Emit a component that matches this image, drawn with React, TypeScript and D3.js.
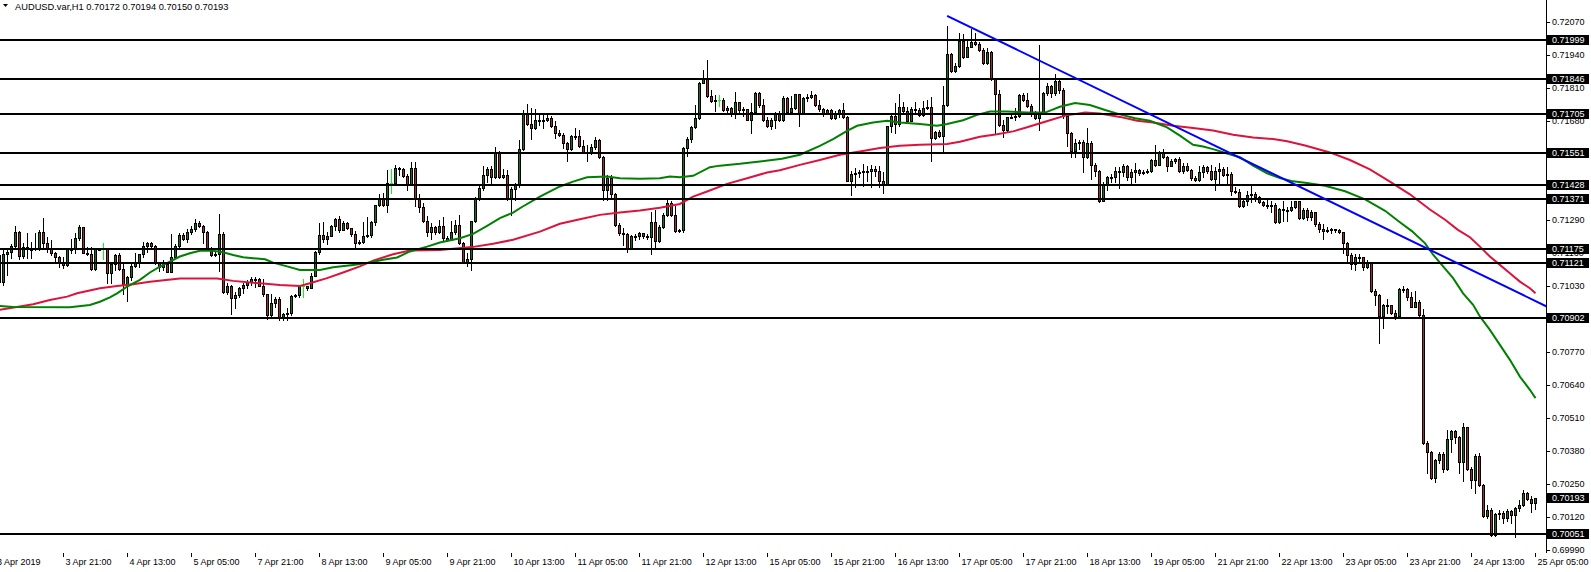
import React from "react";
import * as d3 from "d3";

// ---- Data (AUDUSD H1, 3 Apr 2019 05:00 .. 25 Apr 2019 05:00) ----
const firstOpen = 0.7115;

const closes = [
0.71046,0.71155,0.71164,0.71187,0.71242,0.71147,0.71181,0.71176,0.71173,0.71177,
0.71242,0.71200,0.71177,0.71158,0.71145,0.71125,0.71111,0.71173,0.71175,0.71217,
0.71261,0.71160,0.71155,0.71097,0.71173,0.71174,0.71174,0.71079,0.71116,0.71151,
0.71097,0.71033,0.71063,0.71108,0.71121,0.71153,0.71187,0.71197,0.71187,0.71121,
0.71103,0.71116,0.71084,0.71142,0.71187,0.71229,0.71213,0.71242,0.71255,0.71276,
0.71265,0.71242,0.71180,0.71151,0.71153,0.71233,0.71007,0.71029,0.70981,0.70994,
0.71020,0.71033,0.71045,0.71055,0.71058,0.71029,0.70998,0.70915,0.70961,0.70978,
0.70902,0.70919,0.70924,0.70990,0.70994,0.71027,0.71027,0.71022,0.71069,0.71162,
0.71230,0.71213,0.71227,0.71266,0.71292,0.71250,0.71276,0.71257,0.71234,0.71200,
0.71204,0.71227,0.71229,0.71279,0.71349,0.71371,0.71349,0.71436,0.71436,0.71493,
0.71490,0.71463,0.71431,0.71493,0.71375,0.71339,0.71283,0.71240,0.71261,0.71240,
0.71266,0.71217,0.71211,0.71240,0.71270,0.71198,0.71121,0.71135,0.71285,0.71371,
0.71414,0.71467,0.71489,0.71458,0.71555,0.71458,0.71467,0.71371,0.71410,0.71427,
0.71568,0.71710,0.71668,0.71650,0.71683,0.71682,0.71683,0.71690,0.71660,0.71633,
0.71624,0.71594,0.71568,0.71620,0.71618,0.71581,0.71558,0.71556,0.71576,0.71604,
0.71536,0.71408,0.71454,0.71392,0.71270,0.71237,0.71235,0.71178,0.71224,0.71226,
0.71237,0.71224,0.71221,0.71279,0.71208,0.71263,0.71309,0.71355,0.71309,0.71247,
0.71250,0.71572,0.71607,0.71654,0.71690,0.71830,0.71847,0.71778,0.71759,0.71761,
0.71761,0.71723,0.71729,0.71710,0.71752,0.71723,0.71725,0.71683,0.71716,0.71791,
0.71740,0.71683,0.71660,0.71681,0.71712,0.71681,0.71771,0.71716,0.71730,0.71785,
0.71709,0.71769,0.71774,0.71782,0.71743,0.71726,0.71709,0.71722,0.71690,0.71706,
0.71722,0.71695,0.71441,0.71470,0.71474,0.71476,0.71480,0.71483,0.71488,0.71483,
0.71443,0.71430,0.71660,0.71699,0.71667,0.71735,0.71719,0.71680,0.71726,0.71722,
0.71703,0.71732,0.71735,0.71611,0.71634,0.71621,0.71743,0.71942,0.71874,0.71896,
0.71995,0.71929,0.71971,0.71992,0.71982,0.71958,0.71906,0.71949,0.71844,0.71787,
0.71664,0.71643,0.71693,0.71695,0.71699,0.71782,0.71761,0.71739,0.71716,0.71690,
0.71716,0.71791,0.71815,0.71790,0.71835,0.71800,0.71700,0.71630,0.71559,0.71591,
0.71595,0.71536,0.71591,0.71507,0.71480,0.71365,0.71431,0.71459,0.71457,0.71480,
0.71478,0.71503,0.71457,0.71476,0.71486,0.71473,0.71479,0.71481,0.71525,0.71507,
0.71555,0.71536,0.71503,0.71520,0.71529,0.71480,0.71503,0.71486,0.71454,0.71446,
0.71476,0.71499,0.71480,0.71450,0.71480,0.71490,0.71467,0.71470,0.71402,0.71398,
0.71344,0.71362,0.71389,0.71391,0.71381,0.71358,0.71349,0.71345,0.71346,0.71280,
0.71332,0.71330,0.71328,0.71341,0.71362,0.71297,0.71328,0.71300,0.71320,0.71275,
0.71255,0.71245,0.71248,0.71252,0.71248,0.71240,0.71200,0.71152,0.71116,0.71145,
0.71142,0.71103,0.71125,0.71011,0.70994,0.70911,0.70955,0.70953,0.70924,0.70911,
0.71016,0.71018,0.70987,0.70948,0.70964,0.70915,0.70410,0.70373,0.70272,0.70344,
0.70368,0.70307,0.70425,0.70456,0.70433,0.70334,0.70473,0.70307,0.70263,0.70360,
0.70246,0.70121,0.70147,0.70049,0.70131,0.70134,0.70114,0.70141,0.70127,0.70154,
0.70167,0.70215,0.70189,0.70172,0.70193
];

const highs = [
0.71158,0.71177,0.71177,0.71195,0.71265,0.71244,0.71197,0.71237,0.71204,0.71239,
0.71250,0.71296,0.71223,0.71210,0.71164,0.71147,0.71145,0.71177,0.71213,0.71237,
0.71269,0.71263,0.71181,0.71184,0.71177,0.71177,0.71200,0.71177,0.71125,0.71155,
0.71158,0.71116,0.71068,0.71118,0.71158,0.71155,0.71204,0.71204,0.71204,0.71189,
0.71121,0.71131,0.71116,0.71233,0.71195,0.71237,0.71237,0.71252,0.71265,0.71292,
0.71286,0.71269,0.71244,0.71184,0.71164,0.71313,0.71243,0.71040,0.71033,0.71007,
0.71024,0.71040,0.71053,0.71066,0.71063,0.71060,0.71055,0.70998,0.70998,0.70987,
0.70987,0.70924,0.70941,0.70994,0.70998,0.71030,0.71056,0.71030,0.71079,0.71165,
0.71276,0.71279,0.71243,0.71270,0.71296,0.71305,0.71283,0.71279,0.71257,0.71247,
0.71211,0.71279,0.71300,0.71283,0.71349,0.71392,0.71394,0.71486,0.71489,0.71506,
0.71497,0.71493,0.71470,0.71519,0.71519,0.71392,0.71355,0.71303,0.71276,0.71266,
0.71287,0.71300,0.71226,0.71283,0.71287,0.71309,0.71204,0.71158,0.71285,0.71379,
0.71421,0.71502,0.71497,0.71502,0.71576,0.71559,0.71489,0.71486,0.71418,0.71436,
0.71605,0.71723,0.71746,0.71729,0.71725,0.71703,0.71707,0.71707,0.71699,0.71677,
0.71644,0.71633,0.71598,0.71624,0.71650,0.71644,0.71605,0.71585,0.71589,0.71615,
0.71607,0.71539,0.71467,0.71467,0.71397,0.71276,0.71256,0.71239,0.71230,0.71234,
0.71243,0.71239,0.71234,0.71322,0.71329,0.71270,0.71316,0.71366,0.71362,0.71342,
0.71252,0.71578,0.71615,0.71660,0.71742,0.71834,0.71878,0.71920,0.71801,0.71782,
0.71782,0.71769,0.71736,0.71733,0.71795,0.71755,0.71733,0.71725,0.71749,0.71795,
0.71795,0.71765,0.71694,0.71690,0.71716,0.71720,0.71778,0.71774,0.71778,0.71787,
0.71787,0.71774,0.71787,0.71798,0.71785,0.71761,0.71730,0.71726,0.71726,0.71717,
0.71726,0.71748,0.71699,0.71480,0.71493,0.71485,0.71509,0.71503,0.71506,0.71500,
0.71503,0.71476,0.71660,0.71706,0.71748,0.71785,0.71752,0.71735,0.71735,0.71752,
0.71730,0.71758,0.71761,0.71774,0.71638,0.71645,0.71818,0.72054,0.71945,0.71909,
0.72024,0.72021,0.72001,0.72041,0.72024,0.71992,0.71966,0.71966,0.71953,0.71850,
0.71801,0.71682,0.71696,0.71708,0.71732,0.71785,0.71791,0.71791,0.71745,0.71720,
0.71979,0.71795,0.71830,0.71820,0.71865,0.71845,0.71810,0.71710,0.71634,0.71608,
0.71604,0.71604,0.71651,0.71601,0.71512,0.71486,0.71437,0.71463,0.71470,0.71496,
0.71496,0.71509,0.71507,0.71490,0.71512,0.71490,0.71486,0.71490,0.71529,0.71585,
0.71562,0.71568,0.71542,0.71529,0.71533,0.71536,0.71512,0.71512,0.71490,0.71463,
0.71503,0.71507,0.71503,0.71507,0.71499,0.71512,0.71496,0.71496,0.71476,0.71417,
0.71411,0.71371,0.71402,0.71424,0.71398,0.71385,0.71365,0.71375,0.71365,0.71354,
0.71336,0.71365,0.71341,0.71365,0.71365,0.71365,0.71336,0.71335,0.71330,0.71322,
0.71280,0.71275,0.71262,0.71258,0.71255,0.71255,0.71240,0.71204,0.71158,0.71155,
0.71155,0.71145,0.71132,0.71125,0.71016,0.70998,0.70959,0.70977,0.70955,0.70935,
0.71020,0.71027,0.71020,0.71007,0.71011,0.70972,0.70937,0.70420,0.70377,0.70347,
0.70373,0.70373,0.70462,0.70460,0.70462,0.70439,0.70491,0.70475,0.70315,0.70368,
0.70370,0.70250,0.70167,0.70154,0.70134,0.70147,0.70144,0.70150,0.70147,0.70158,
0.70184,0.70226,0.70219,0.70200,0.70194
];

const lows = [
0.71040,0.71033,0.71072,0.71138,0.71177,0.71134,0.71138,0.71138,0.71138,0.71171,
0.71171,0.71184,0.71164,0.71151,0.71125,0.71103,0.71099,0.71108,0.71160,0.71158,
0.71210,0.71158,0.71151,0.71092,0.71092,0.71171,0.71134,0.71040,0.71040,0.71092,
0.71092,0.70998,0.70971,0.71053,0.71103,0.71105,0.71145,0.71164,0.71184,0.71116,
0.71086,0.71092,0.71082,0.71082,0.71138,0.71181,0.71210,0.71204,0.71234,0.71247,
0.71260,0.71197,0.71171,0.71147,0.71147,0.71086,0.71003,0.70998,0.70919,0.70941,
0.70987,0.71000,0.71020,0.71033,0.71026,0.71029,0.70990,0.70898,0.70909,0.70948,
0.70896,0.70896,0.70896,0.70915,0.70987,0.70987,0.70987,0.71014,0.71020,0.71069,
0.71156,0.71204,0.71195,0.71224,0.71250,0.71243,0.71250,0.71253,0.71226,0.71184,
0.71195,0.71200,0.71221,0.71221,0.71270,0.71345,0.71342,0.71322,0.71397,0.71431,
0.71467,0.71458,0.71408,0.71427,0.71342,0.71322,0.71279,0.71224,0.71213,0.71234,
0.71237,0.71211,0.71208,0.71211,0.71234,0.71195,0.71119,0.71108,0.71090,0.71279,
0.71366,0.71408,0.71440,0.71436,0.71454,0.71454,0.71454,0.71366,0.71309,0.71368,
0.71418,0.71565,0.71664,0.71607,0.71646,0.71664,0.71650,0.71677,0.71657,0.71611,
0.71620,0.71572,0.71523,0.71565,0.71607,0.71578,0.71555,0.71522,0.71550,0.71568,
0.71532,0.71368,0.71368,0.71375,0.71266,0.71230,0.71191,0.71161,0.71174,0.71211,
0.71213,0.71217,0.71213,0.71155,0.71174,0.71204,0.71257,0.71305,0.71305,0.71243,
0.71240,0.71243,0.71539,0.71598,0.71650,0.71686,0.71828,0.71775,0.71755,0.71720,
0.71738,0.71720,0.71710,0.71699,0.71690,0.71716,0.71699,0.71681,0.71633,0.71710,
0.71735,0.71677,0.71657,0.71646,0.71650,0.71677,0.71677,0.71713,0.71713,0.71726,
0.71660,0.71706,0.71758,0.71769,0.71739,0.71719,0.71699,0.71706,0.71686,0.71686,
0.71693,0.71690,0.71441,0.71388,0.71417,0.71457,0.71424,0.71443,0.71420,0.71462,
0.71420,0.71394,0.71428,0.71634,0.71630,0.71660,0.71709,0.71677,0.71677,0.71713,
0.71700,0.71700,0.71725,0.71520,0.71607,0.71617,0.71551,0.71739,0.71870,0.71870,
0.71892,0.71927,0.71929,0.71969,0.71979,0.71953,0.71903,0.71903,0.71840,0.71630,
0.71660,0.71614,0.71640,0.71690,0.71682,0.71693,0.71756,0.71735,0.71700,0.71686,
0.71643,0.71713,0.71780,0.71775,0.71780,0.71790,0.71690,0.71582,0.71536,0.71536,
0.71568,0.71476,0.71533,0.71450,0.71463,0.71358,0.71365,0.71407,0.71437,0.71437,
0.71415,0.71463,0.71446,0.71431,0.71437,0.71467,0.71470,0.71473,0.71476,0.71503,
0.71507,0.71533,0.71480,0.71503,0.71512,0.71476,0.71473,0.71483,0.71446,0.71444,
0.71444,0.71457,0.71473,0.71446,0.71407,0.71433,0.71463,0.71431,0.71389,0.71396,
0.71341,0.71341,0.71349,0.71358,0.71362,0.71354,0.71345,0.71336,0.71319,0.71276,
0.71276,0.71283,0.71283,0.71326,0.71336,0.71293,0.71293,0.71290,0.71290,0.71265,
0.71240,0.71213,0.71240,0.71238,0.71240,0.71236,0.71158,0.71119,0.71095,0.71090,
0.71125,0.71090,0.71099,0.71007,0.70955,0.70806,0.70863,0.70924,0.70919,0.70898,
0.70909,0.71007,0.70974,0.70945,0.70945,0.70911,0.70407,0.70294,0.70268,0.70255,
0.70331,0.70298,0.70305,0.70373,0.70410,0.70294,0.70259,0.70305,0.70232,0.70213,
0.70242,0.70118,0.70114,0.70045,0.70042,0.70110,0.70097,0.70105,0.70095,0.70039,
0.70141,0.70163,0.70184,0.70137,0.70150
];

// time labels, one every 16 bars starting at bar 0
const timeLabels = [
  "3 Apr 2019", "3 Apr 21:00", "4 Apr 13:00", "5 Apr 05:00", "7 Apr 21:00",
  "8 Apr 13:00", "9 Apr 05:00", "9 Apr 21:00", "10 Apr 13:00", "11 Apr 05:00",
  "11 Apr 21:00", "12 Apr 13:00", "15 Apr 05:00", "15 Apr 21:00", "16 Apr 13:00",
  "17 Apr 05:00", "17 Apr 21:00", "18 Apr 13:00", "19 Apr 05:00", "21 Apr 21:00",
  "22 Apr 13:00", "23 Apr 05:00", "23 Apr 21:00", "24 Apr 13:00", "25 Apr 05:00"
];
const labelStep = 16;

// horizontal support / resistance levels
const levels = [0.71999, 0.71846, 0.71705, 0.71551, 0.71428, 0.71371, 0.71175, 0.71121, 0.70902, 0.70051];
const lastPrice = 0.70193;

// price axis ticks
const priceTickStart = 0.6999;
const priceTickStep = 0.0013;
const priceTickCount = 17;

// moving averages (at bar positions)
const redMaBars = [0,5.1,8.4,12.6,16.9,19.4,25.1,29.4,33.4,37.6,45.1,54.4,58.4,63.4,70.1,75.1,77.6,81.9,85.9,90.1,93.4,98.4,102.6,110.1,118.1,123.4,128.4,135.1,140.1,145.1,150.1,155.1,160.1,165.1,170.1,173.4,176.9,181.9,186.9,191.9,195.1,200.1,205.1,210.1,215.1,220.1,225.1,230.1,236.9,240.1,245.1,249.4,253.4,256.9,261.4,266.4,271.4,275.1,280.1,284.4,288.4,293.4,298.4,303.4,308.4,313.4,318.4,321.9,326.4,332.6,337.6,342.6,347.6,352.6,357.6,361.4,364.6,367.6,370.1,372.6,375.1,377.6,380.1,382.6,384];
const redMaValues = [0.70935,0.70948,0.70957,0.70974,0.70987,0.71000,0.71020,0.71029,0.71036,0.71046,0.71058,0.71058,0.71049,0.71042,0.71033,0.71029,0.71040,0.71060,0.71082,0.71106,0.71129,0.71154,0.71169,0.71171,0.71182,0.71195,0.71211,0.71243,0.71274,0.71292,0.71309,0.71318,0.71326,0.71337,0.71352,0.71381,0.71401,0.71431,0.71453,0.71476,0.71485,0.71506,0.71525,0.71546,0.71559,0.71572,0.71581,0.71585,0.71588,0.71597,0.71617,0.71627,0.71638,0.71654,0.71676,0.71700,0.71712,0.71708,0.71695,0.71680,0.71673,0.71660,0.71651,0.71641,0.71625,0.71614,0.71608,0.71599,0.71582,0.71555,0.71525,0.71488,0.71440,0.71390,0.71330,0.71290,0.71250,0.71221,0.71184,0.71145,0.71112,0.71079,0.71046,0.71020,0.71000];

const greenMaBars = [0,3.4,17.6,22.6,25.1,27.6,29.4,31.9,35.1,37.6,40.1,42.6,45.1,47.6,50.1,53.4,55.9,58.4,60.9,63.4,66.4,68.4,71.9,75.1,80.1,83.4,88.4,92.6,95.9,99.4,102.6,106.9,110.1,115.1,118.4,121.9,125.1,128.4,130.6,135.1,140.1,143.4,146.9,151.9,155.1,160.1,165.1,167.6,170.1,173.4,177.6,180.1,185.1,190.1,195.6,200.1,205.1,208.4,211.9,214.4,218.4,221.9,225.1,230.1,234.4,236.9,240.9,244.4,247.6,251.9,256.9,261.4,265.1,268.9,272.6,276.4,280.1,283.9,287.6,291.9,295.1,298.4,300.9,303.4,306.9,310.1,313.4,316.9,320.1,323.4,326.4,331.4,336.4,341.4,346.4,350.1,353.1,356.4,358.4,360.9,363.4,365.9,368.4,370.1,372.6,375.1,377.6,380.1,382.6,384];
const greenMaValues = [0.70950,0.70946,0.70945,0.70954,0.70967,0.70984,0.71000,0.71026,0.71053,0.71082,0.71105,0.71125,0.71145,0.71158,0.71168,0.71168,0.71162,0.71151,0.71142,0.71138,0.71134,0.71121,0.71106,0.71092,0.71092,0.71103,0.71112,0.71121,0.71132,0.71141,0.71165,0.71184,0.71200,0.71217,0.71234,0.71266,0.71296,0.71318,0.71340,0.71381,0.71421,0.71440,0.71457,0.71460,0.71453,0.71451,0.71453,0.71460,0.71457,0.71463,0.71497,0.71503,0.71510,0.71519,0.71530,0.71546,0.71581,0.71607,0.71640,0.71660,0.71673,0.71680,0.71673,0.71667,0.71660,0.71667,0.71682,0.71703,0.71716,0.71716,0.71712,0.71712,0.71735,0.71750,0.71742,0.71722,0.71705,0.71690,0.71680,0.71654,0.71621,0.71585,0.71578,0.71568,0.71551,0.71536,0.71503,0.71473,0.71454,0.71441,0.71436,0.71424,0.71402,0.71370,0.71325,0.71280,0.71245,0.71197,0.71152,0.71106,0.71060,0.71000,0.70955,0.70909,0.70856,0.70797,0.70738,0.70672,0.70620,0.70587];

// descending trend line
const trendBars = [236.9, 386.8];
const trendValues = [0.72093, 0.70948];

// ---- Layout ----
const W = 1591;
const H = 572;
const PLOT_RIGHT = 1546.5;
const PLOT_BOTTOM = 553;
const FONT = "'Liberation Sans', Arial, sans-serif";
const BULL = "#008000";
const BEAR = "#a52a2a";
const DOJI = "#00ff00";

export default function App() {
  const n = closes.length;
  const x = d3.scaleLinear().domain([0, n - 1]).range([-0.5, 4 * (n - 1) - 0.5]);
  const y = d3.scaleLinear().domain([0.6999, 0.7207]).range([549.7, 21.7]);

  const candles = closes.map((c, i) => {
    const o = i === 0 ? firstOpen : closes[i - 1];
    return { i, o, c, h: Math.max(highs[i], o, c), l: Math.min(lows[i], o, c) };
  });

  const line = d3
    .line<[number, number]>()
    .x((d) => x(d[0]))
    .y((d) => y(d[1]));

  const redPath = line(redMaBars.map((b, k) => [b, redMaValues[k]]) as [number, number][]) || "";
  const greenPath = line(greenMaBars.map((b, k) => [b, greenMaValues[k]]) as [number, number][]) || "";
  const trendPath = line(trendBars.map((b, k) => [b, trendValues[k]]) as [number, number][]) || "";

  const priceTicks = d3.range(priceTickCount).map((k) => +(priceTickStart + k * priceTickStep).toFixed(5));
  const boxValues = [...levels, lastPrice];

  return (
    <svg
      width={W}
      height={H}
      style={{ position: "absolute", left: 0, top: 0, background: "#ffffff" }}
      fontFamily={FONT}
    >
      <defs>
        <clipPath id="plotClip">
          <rect x={0} y={0} width={PLOT_RIGHT} height={PLOT_BOTTOM} />
        </clipPath>
      </defs>
      <rect x={0} y={0} width={W} height={H} fill="#ffffff" />

      <g clipPath="url(#plotClip)">
        <g shapeRendering="crispEdges">
          {candles.map((d) => {
            const cx = x(d.i);
            const doji = d.o === d.c;
            const up = d.c > d.o;
            const top = Math.round(y(Math.max(d.o, d.c)));
            const bot = Math.round(y(Math.min(d.o, d.c)));
            const yh = Math.round(y(d.h));
            const yl = Math.round(y(d.l));
            return (
              <g key={d.i}>
                <line x1={cx} x2={cx} y1={yh} y2={yl + 1} stroke={doji ? DOJI : "#000"} strokeWidth={1} />
                {doji ? (
                  <line x1={cx - 1.5} x2={cx + 1.5} y1={top + 0.5} y2={top + 0.5} stroke={DOJI} strokeWidth={1} />
                ) : (
                  <rect
                    x={cx - 1}
                    y={top + 0.5}
                    width={2}
                    height={Math.max(1, bot - top)}
                    fill={up ? BULL : BEAR}
                    stroke="#000"
                    strokeWidth={1}
                  />
                )}
              </g>
            );
          })}
        </g>

        <path d={redPath} fill="none" stroke="#dc143c" strokeWidth={2} />
        <path d={greenPath} fill="none" stroke="#008000" strokeWidth={2} />

        <g shapeRendering="crispEdges">
          {levels.map((v) => (
            <line key={v} x1={0} x2={PLOT_RIGHT} y1={Math.round(y(v))} y2={Math.round(y(v))} stroke="#000" strokeWidth={2} />
          ))}
        </g>

        <path d={trendPath} fill="none" stroke="#0000ff" strokeWidth={2} />
      </g>

      {/* header */}
      <polygon points="3,4 8,4 5.5,7" fill="#000" />
      <text x={15} y={9.5} fontSize={9.3} fill="#000">
        AUDUSD.var,H1  0.70172 0.70194 0.70150 0.70193
      </text>

      {/* right price axis */}
      <line x1={PLOT_RIGHT} x2={PLOT_RIGHT} y1={0} y2={PLOT_BOTTOM} stroke="#000" strokeWidth={1} shapeRendering="crispEdges" />
      <g shapeRendering="crispEdges">
        {priceTicks.map((v) => (
          <line key={"t" + v} x1={1547} x2={1550} y1={Math.round(y(v)) + 0.5} y2={Math.round(y(v)) + 0.5} stroke="#000" />
        ))}
      </g>
      {priceTicks.map((v) => (
        <text key={"l" + v} x={1552} y={y(v) + 3.3} fontSize={9} fill="#000">
          {v.toFixed(5)}
        </text>
      ))}
      {boxValues.map((v) => (
        <g key={"b" + v}>
          <rect x={1547} y={Math.round(y(v)) - 5} width={42} height={10} fill="#000" shapeRendering="crispEdges" />
          <text x={1552} y={Math.round(y(v)) + 3.3} fontSize={9} fill="#fff">
            {v.toFixed(5)}
          </text>
        </g>
      ))}

      {/* bottom time axis */}
      <g shapeRendering="crispEdges">
        {timeLabels.map((t, k) => (
          <line key={"xt" + k} x1={x(k * labelStep)} x2={x(k * labelStep)} y1={PLOT_BOTTOM} y2={PLOT_BOTTOM + 4} stroke="#000" />
        ))}
      </g>
      {timeLabels.map((t, k) => (
        <text key={"xl" + k} x={k === 0 ? -3 : x(k * labelStep) + 2} y={565} fontSize={9} fill="#000">
          {t}
        </text>
      ))}
    </svg>
  );
}
